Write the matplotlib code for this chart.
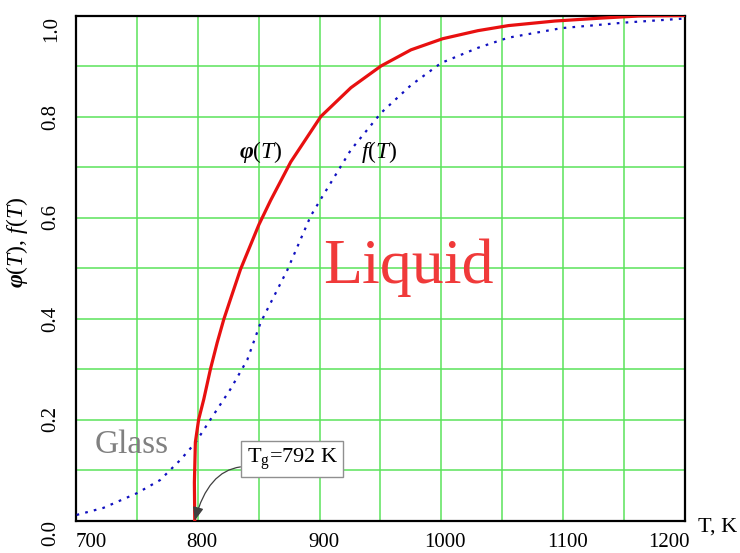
import matplotlib
matplotlib.use("Agg")
import matplotlib.pyplot as plt
from matplotlib.transforms import ScaledTranslation

plt.rcParams['font.family'] = ['Liberation Serif', 'DejaVu Serif']
plt.rcParams['mathtext.fontset'] = 'custom'
plt.rcParams['mathtext.rm'] = 'Liberation Serif'
plt.rcParams['mathtext.it'] = 'Liberation Serif:italic'
plt.rcParams['mathtext.bf'] = 'Liberation Serif:bold:italic'

# phi(T) (red, solid)
T_phi = [797.5, 797.2, 798, 800.7, 804.9, 810.4, 815.9, 821.3, 826.8, 835, 850.2,
         859.8, 876.3, 901, 925.7, 950.4, 975, 1001, 1030, 1055, 1093, 1132, 1162, 1200]
phi = [0.0, 0.075, 0.155, 0.2, 0.24, 0.3, 0.352, 0.398, 0.438, 0.497, 0.586,
       0.634, 0.71, 0.80, 0.857, 0.90, 0.932, 0.954, 0.970, 0.980, 0.989, 0.995, 0.999, 1.0]

# f(T) (blue, dotted)
T_f = [700.5, 722.5, 750, 769, 785.7, 798, 810.4, 826.8, 840.6, 851.6, 873.5, 892.7,
       902.4, 925.7, 950.4, 975, 999.8, 1030, 1054.8, 1098.7, 1150.6, 1200]
f = [0.011, 0.025, 0.054, 0.08, 0.12, 0.154, 0.2, 0.26, 0.318, 0.392, 0.496, 0.603,
     0.642, 0.734, 0.807, 0.862, 0.906, 0.936, 0.956, 0.975, 0.986, 0.994]

x_ticks = [700, 800, 900, 1000, 1100, 1200]
y_ticks = [0.0, 0.2, 0.4, 0.6, 0.8, 1.0]
y_ticklabels = ['0.0', '0.2', '0.4', '0.6', '0.8', '1.0']
Tg = 792

fig = plt.figure(figsize=(7.4, 5.53), dpi=100)
ax = fig.add_axes([76/740, 1 - 520.5/553, 609/740, 505/553])

ax.set_xlim(700, 1200)
ax.set_ylim(0, 1)

# grid
for xv in range(750, 1200, 50):
    ax.axvline(xv, color='#5be35b', lw=1.1, zorder=0)
for yv in [i / 10 for i in range(1, 10)]:
    ax.axhline(yv, color='#5be35b', lw=1.1, zorder=0)

ax.plot(T_f, f, color='#1010c0', lw=1.6, linestyle=(0, (1.2, 2.8)), zorder=3)
ax.plot(T_phi, phi, color='#e81010', lw=2.3, zorder=4, solid_joinstyle='round')

for s in ax.spines.values():
    s.set_linewidth(1.6)
    s.set_color('black')

ax.set_xticks(x_ticks)
ax.set_xticklabels([str(v) for v in x_ticks], fontsize=15)
ax.set_yticks(y_ticks)
ax.set_yticklabels(y_ticklabels, fontsize=15, rotation=90, va='center')
ax.tick_params(axis='both', length=0)
ax.tick_params(axis='x', pad=9)
ax.tick_params(axis='y', pad=11)

xl = ax.get_xticklabels()
xl[0].set_ha('left')
xl[-1].set_ha('right')
xl[-1].set_transform(xl[-1].get_transform() + ScaledTranslation(5/100, 0, fig.dpi_scale_trans))
for lab in xl[1:-1]:
    lab.set_transform(lab.get_transform() + ScaledTranslation(4/100, 0, fig.dpi_scale_trans))
yl = ax.get_yticklabels()
yl[-1].set_va('top')
yl[0].set_va('top')

ax.set_ylabel(r'$\mathbf{\varphi}(T),\,f(T)$', fontsize=17)
ax.yaxis.set_label_coords(-0.075, 0.55)

ax.text(1.021, -0.013, 'T, K', transform=ax.transAxes, fontsize=16,
        ha='left', va='center')

ax.text(852, 0.73, r'$\mathbf{\varphi}(T)$', fontsize=17, ha='center', va='center')
ax.text(949, 0.73, r'$f(T)$', fontsize=17, ha='center', va='center')
ax.text(973, 0.50, 'Liquid', fontsize=46, color='#f03a3a', ha='center', va='center')
ax.text(746, 0.15, 'Glass', fontsize=24, color='#808080', ha='center', va='center')

ax.annotate(r'T$_\mathrm{g}$=792 K', xy=(797.5, 0.0), xytext=(840, 0.122),
            fontsize=16, ha='left', va='center',
            bbox=dict(boxstyle='square,pad=0.25', fc='white', ec='#909090', lw=1),
            arrowprops=dict(arrowstyle='-|>,head_length=0.5,head_width=0.2',
                            color='#404040', lw=0.9, relpos=(0, 0.2),
                            connectionstyle='angle3,angleA=0,angleB=75',
                            shrinkA=0, shrinkB=0),
            zorder=6)

fig.savefig('out.png', dpi=100)
